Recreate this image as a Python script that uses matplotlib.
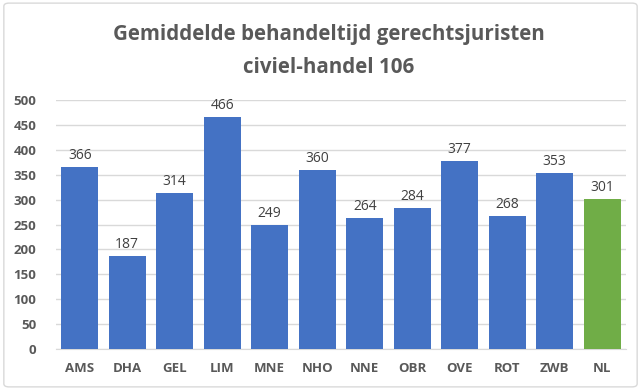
import matplotlib
matplotlib.use("Agg")
import matplotlib.pyplot as plt
from matplotlib.patches import FancyBboxPatch

categories = ["AMS", "DHA", "GEL", "LIM", "MNE", "NHO", "NNE", "OBR", "OVE", "ROT", "ZWB", "NL"]
values = [366, 187, 314, 466, 249, 360, 264, 284, 377, 268, 353, 301]
yticks = [0, 50, 100, 150, 200, 250, 300, 350, 400, 450, 500]
title = "Gemiddelde behandeltijd gerechtsjuristen\ncivie-handel 106".replace("civie-", "civiel-")

blue = "#4472C4"
green = "#70AD47"
colors = [green if c == "NL" else blue for c in categories]

plt.rcParams["font.family"] = ["Open Sans", "DejaVu Sans"]

fig = plt.figure(figsize=(6.41, 3.90), dpi=100)
fig.patch.set_facecolor("white")

# chart frame
frame = FancyBboxPatch((0.006, 0.008), 0.988, 0.984, boxstyle="round,pad=0,rounding_size=0.008",
                       transform=fig.transFigure, facecolor="none", edgecolor="#D9D9D9",
                       linewidth=1.0, zorder=-10)
fig.patches.append(frame)

ax = fig.add_axes([0.0874, 0.105, 0.889, 0.6386])
ax.set_facecolor("none")
ax.set_zorder(5)

x = list(range(len(categories)))
bars = ax.bar(x, values, width=0.78, color=colors, zorder=3)
for xi, v in zip(x, values):
    ax.text(xi, v + 8, str(v), ha="center", va="bottom", fontsize=10, color="#404040")

ax.set_ylim(0, 500)
ax.set_xlim(-0.5, len(categories) - 0.5)
ax.set_yticks(yticks)
ax.set_xticks(x)
ax.set_xticklabels(categories)
ax.yaxis.grid(True, color="#D9D9D9", linewidth=1.0, zorder=0)
ax.set_axisbelow(True)
for s in ["top", "right", "left"]:
    ax.spines[s].set_visible(False)
ax.spines["bottom"].set_color("#D9D9D9")
ax.tick_params(axis="both", length=0, labelsize=9.5, labelcolor="#595959")
ax.tick_params(axis="x", pad=9)
ax.tick_params(axis="y", pad=14)
for lab in ax.get_xticklabels() + ax.get_yticklabels():
    lab.set_fontweight("bold")

fig.text(0.513, 0.868, title, ha="center", va="center", fontsize=14.8, fontweight="bold",
         color="#595959", linespacing=1.75)

fig.savefig("out.png", dpi=100)
